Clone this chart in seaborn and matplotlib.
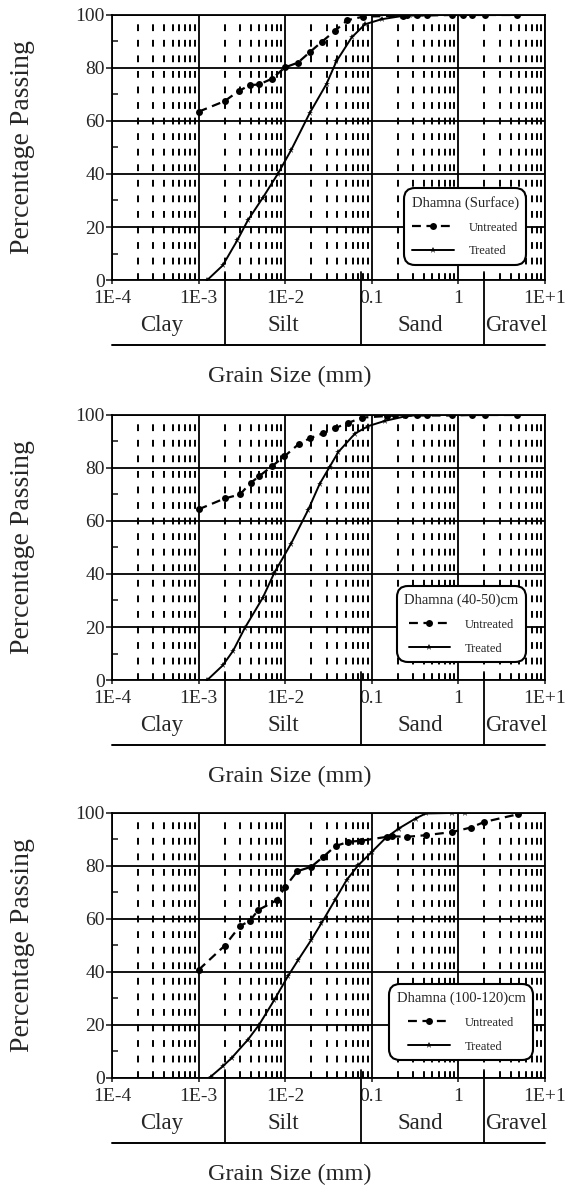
import matplotlib
matplotlib.use('Agg')
import matplotlib.pyplot as plt
import seaborn as sns
from matplotlib.ticker import LogLocator, NullFormatter, FixedLocator

# grain size axis (mm)
major_ticks = [1e-4, 1e-3, 1e-2, 0.1, 1, 10]
tick_labels = ['1E-4', '1E-3', '1E-2', '0.1', '1', '1E+1']
zone_names = ['Clay', 'Silt', 'Sand', 'Gravel']
zone_label_x = [3.7e-4, 0.0095, 0.36, 4.6]
zone_bounds = [0.002, 0.075, 2]

# Dhamna (Surface)
untreated_d_1 = [0.001, 0.002, 0.0029, 0.0039, 0.005, 0.0071, 0.0099, 0.014, 0.0193,
                 0.0263, 0.0375, 0.052, 0.08, 0.227, 0.253, 0.33, 0.43, 0.85, 1.14,
                 1.43, 2.03, 4.7]
untreated_p_1 = [63.5, 67.5, 71.3, 73.5, 73.8, 76.0, 80.2, 82.0, 86.0,
                 89.8, 94.0, 98.0, 99.4, 99.7, 99.8, 99.8, 99.8, 100, 99.9,
                 100, 100, 100]
treated_d_1 = [0.00126, 0.0019, 0.0028, 0.0037, 0.0055, 0.0082, 0.0117, 0.0192, 0.030,
               0.039, 0.0585, 0.0835, 0.13, 0.223, 0.3, 0.45]
treated_p_1 = [0, 5.5, 15, 22.5, 31, 40, 49, 63, 74,
               82.5, 91.5, 96.5, 98.4, 99.6, 100, 100]

# Dhamna (40-50)cm
untreated_d_2 = [0.001, 0.002, 0.003, 0.004, 0.005, 0.007, 0.0098, 0.0143, 0.0192,
                 0.0274, 0.038, 0.0535, 0.0766, 0.149, 0.185, 0.242, 0.33, 0.43,
                 0.85, 1.43, 2.03, 4.7]
untreated_p_2 = [64.4, 68.5, 70.0, 74.4, 76.9, 80.6, 84.4, 89.0, 91.2,
                 93.1, 95.1, 97.0, 99.0, 99.6, 99.8, 99.8, 99.8, 99.8,
                 99.8, 100, 100, 100]
treated_d_2 = [0.00126, 0.0019, 0.0025, 0.0034, 0.0055, 0.0075, 0.0117, 0.0183, 0.025,
               0.0327, 0.041, 0.064, 0.091, 0.143, 0.244, 0.35]
treated_p_2 = [0, 5.5, 11, 19.5, 31, 40.5, 51.5, 64, 74,
               80.5, 86, 93, 95.8, 97.8, 99.5, 100]

# Dhamna (100-120)cm
untreated_d_3 = [0.001, 0.002, 0.003, 0.0039, 0.0049, 0.008, 0.01, 0.0138, 0.02,
                 0.0274, 0.0381, 0.0535, 0.0745, 0.15, 0.171, 0.255, 0.418, 0.85,
                 1.39, 1.99, 4.86]
untreated_p_3 = [40.8, 49.9, 57.3, 59.3, 63.4, 67.1, 72.1, 78.0, 79.7,
                 83.4, 87.5, 89.1, 89.5, 91.0, 91.2, 91.0, 91.6, 92.8,
                 94.5, 96.6, 99.5]
treated_d_3 = [0.00138, 0.0019, 0.0024, 0.0037, 0.005, 0.0075, 0.0107, 0.0141, 0.02,
               0.0262, 0.0375, 0.0512, 0.07, 0.1, 0.143, 0.204, 0.32, 0.42, 0.85, 1.2]
treated_p_3 = [0.5, 4.4, 7.5, 14.4, 20.1, 29.5, 38.3, 44.5, 52.1,
               58.4, 67.1, 74.7, 80.3, 85.3, 90.4, 94.1, 97.9, 99.8, 100, 100]

titles = ['Dhamna (Surface)', 'Dhamna (40-50)cm', 'Dhamna (100-120)cm']


def draw_panel(fig, rect, ud, up, td, tp, title, leg_anchor):
    ax = fig.add_axes(rect)
    ax.set_xscale('log')

    sns.lineplot(x=ud, y=up, ax=ax, color='black', marker='o', markersize=5,
                 markeredgewidth=0, linewidth=1.6, linestyle=(0, (4, 2.5)),
                 label='Untreated')
    sns.lineplot(x=td, y=tp, ax=ax, color='black', marker='*', markersize=5,
                 markeredgewidth=0, linewidth=1.4, label='Treated')

    ax.set_xlim(1e-4, 10)
    ax.set_ylim(0, 100)
    ax.xaxis.set_major_locator(FixedLocator(major_ticks))
    ax.set_xticklabels(tick_labels)
    ax.xaxis.set_minor_locator(LogLocator(base=10, subs=range(2, 10), numticks=20))
    ax.xaxis.set_minor_formatter(NullFormatter())
    ax.set_yticks([0, 20, 40, 60, 80, 100])
    ax.set_yticks([10, 30, 50, 70, 90], minor=True)

    ax.grid(which='major', color='black', linewidth=1.3, linestyle='-')
    ax.grid(which='minor', axis='x', color='black', linewidth=1.4,
            linestyle=(0, (3.5, 4.5)))
    ax.tick_params(axis='x', which='major', direction='out', length=3, pad=4,
                   labelsize=14, width=1.2)
    ax.tick_params(axis='x', which='minor', length=0)
    ax.tick_params(axis='y', which='major', direction='out', length=4, pad=1,
                   labelsize=14, width=1.2)
    ax.tick_params(axis='y', which='minor', direction='in', length=4, width=1.2)
    for sp in ax.spines.values():
        sp.set_linewidth(1.3)
        sp.set_color('black')

    ax.set_xlabel('')
    ax.set_ylabel('Percentage Passing', fontsize=20)
    ax.yaxis.set_label_coords(-0.178, 0.5)

    # soil classification strip under the axis
    tr = ax.get_xaxis_transform()
    for b in zone_bounds:
        ax.plot([b, b], [0.03, -0.245], transform=tr, color='black', lw=1.3,
                clip_on=False)
    ax.plot([1e-4, 10], [-0.245, -0.245], transform=tr, color='black', lw=1.4,
            clip_on=False)
    for name, xz in zip(zone_names, zone_label_x):
        ax.text(xz, -0.172, name, transform=tr, ha='center', va='center',
                fontsize=16.5)
    ax.text(0.41, -0.365, 'Grain Size (mm)', transform=ax.transAxes,
            ha='center', va='center', fontsize=17.5)

    leg = ax.legend(title=title, loc='lower right', bbox_to_anchor=leg_anchor,
                    frameon=True, fancybox=True, fontsize=9, title_fontsize=10.5,
                    handlelength=3.3, handletextpad=1.2, labelspacing=0.95,
                    borderpad=0.5, framealpha=1, edgecolor='black')
    leg.get_frame().set_linewidth(1.5)
    leg.get_frame().set_boxstyle('round,pad=0.1,rounding_size=0.9')
    return ax


def main():
    sns.set_style('ticks')
    plt.rcParams['font.family'] = ['Liberation Serif', 'DejaVu Serif']

    fig = plt.figure(figsize=(5.72, 11.88), dpi=100)
    left, width, height = 0.1958, 0.757, 0.2231
    bottoms = [0.7643, 0.4276, 0.0926]
    data = [(untreated_d_1, untreated_p_1, treated_d_1, treated_p_1),
            (untreated_d_2, untreated_p_2, treated_d_2, treated_p_2),
            (untreated_d_3, untreated_p_3, treated_d_3, treated_p_3)]
    anchors = [(0.968, 0.038), (0.968, 0.049), (0.984, 0.049)]

    for b, d, t, a in zip(bottoms, data, titles, anchors):
        draw_panel(fig, [left, b, width, height], *d, t, a)

    fig.savefig('out.png', dpi=100)
    plt.close(fig)


if __name__ == '__main__':
    main()
